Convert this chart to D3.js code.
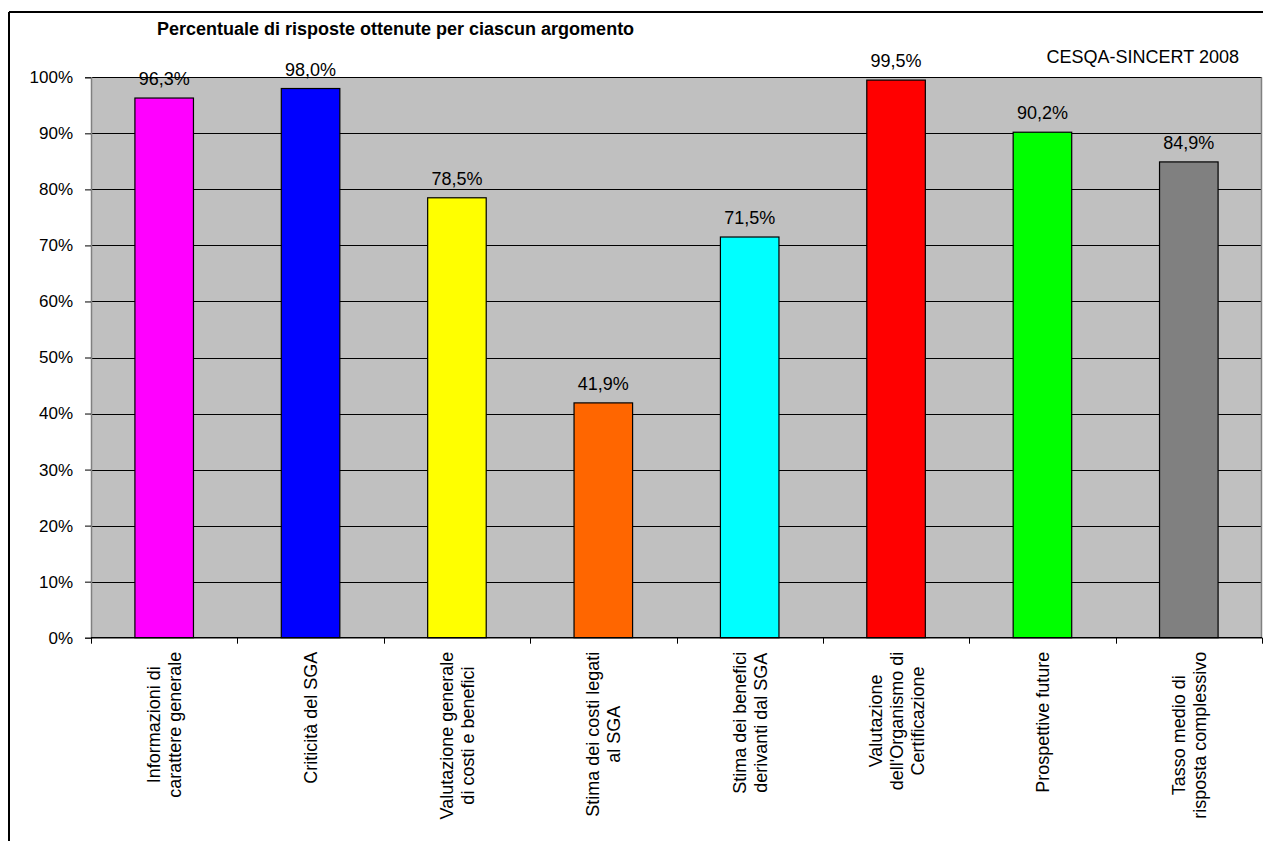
<!DOCTYPE html>
<html>
<head>
<meta charset="utf-8">
<script src="https://cdn.jsdelivr.net/npm/d3@7"></script>
<style>
  html, body { margin: 0; padding: 0; background: #fff; }
  svg { display: block; }
  text { font-family: "Liberation Sans", Arial, sans-serif; fill: #000; }
</style>
</head>
<body>
<svg id="chart" width="1263" height="841"></svg>
<script>
const categories = [
  ["Informazioni di", "carattere generale"],
  ["Criticità del SGA"],
  ["Valutazione generale", "di costi e benefici"],
  ["Stima dei costi legati", "al SGA"],
  ["Stima dei benefici", "derivanti dal SGA"],
  ["Valutazione", "dell'Organismo di", "Certificazione"],
  ["Prospettive future"],
  ["Tasso medio di", "risposta complessivo"]
];
const values = [96.3, 98.0, 78.5, 41.9, 71.5, 99.5, 90.2, 84.9];
const colors = ["#FF00FF", "#0000FF", "#FFFF00", "#FF6600", "#00FFFF", "#FF0000", "#00FF00", "#808080"];
const yTicks = [0, 10, 20, 30, 40, 50, 60, 70, 80, 90, 100];
const titleText = "Percentuale di risposte ottenute per ciascun argomento";
const sourceText = "CESQA-SINCERT 2008";

const svg = d3.select("#chart");
const W = 1263, H = 841;
const m = { left: 91, right: 1262, top: 77.3, bottom: 637.7 };
const fs = 18;

// outer frame
svg.append("line").attr("x1", 9).attr("x2", 9).attr("y1", 12).attr("y2", H)
  .attr("stroke", "#000").attr("stroke-width", 2);
svg.append("line").attr("x1", 9).attr("x2", W).attr("y1", 12).attr("y2", 12)
  .attr("stroke", "#000").attr("stroke-width", 2);

const x = d3.scaleBand().domain(d3.range(categories.length)).range([m.left, m.right]).paddingInner(0).paddingOuter(0);
const y = d3.scaleLinear().domain([0, 100]).range([m.bottom, m.top]);

// plot background
svg.append("rect").attr("x", m.left).attr("y", m.top)
  .attr("width", m.right - m.left).attr("height", m.bottom - m.top)
  .attr("fill", "#C0C0C0");

// gridlines
svg.append("g").selectAll("line").data(yTicks.filter(d => d > 0)).join("line")
  .attr("x1", m.left).attr("x2", m.right)
  .attr("y1", d => Math.round(y(d)) + 0.5).attr("y2", d => Math.round(y(d)) + 0.5)
  .attr("stroke", "#000").attr("stroke-width", 1);

// right border of plot
svg.append("line").attr("x1", m.right - 0.5).attr("x2", m.right - 0.5)
  .attr("y1", m.top).attr("y2", m.bottom).attr("stroke", "#808080").attr("stroke-width", 1.5);

// bars
const bw = x.bandwidth() * 0.4;
svg.append("g").selectAll("rect").data(values).join("rect")
  .attr("x", (d, i) => x(i) + (x.bandwidth() - bw) / 2)
  .attr("y", d => y(d))
  .attr("width", bw)
  .attr("height", d => y(0) - y(d))
  .attr("fill", (d, i) => colors[i])
  .attr("stroke", "#000").attr("stroke-width", 1.2);

// value labels
svg.append("g").selectAll("text").data(values).join("text")
  .attr("x", (d, i) => x(i) + x.bandwidth() / 2)
  .attr("y", d => y(d) - 13)
  .attr("text-anchor", "middle")
  .attr("font-size", fs)
  .text(d => d.toFixed(1).replace(".", ",") + "%");

// y axis
const yAxis = d3.axisLeft(y).tickValues(yTicks).tickSize(6).tickPadding(12)
  .tickFormat(d => d + "%");
const gy = svg.append("g").attr("transform", `translate(${m.left},0)`).call(yAxis);
gy.select(".domain").attr("stroke", "#808080").attr("stroke-width", 1.5);
gy.selectAll(".tick line").attr("stroke", "#000");
gy.selectAll(".tick text").attr("font-size", 17).attr("font-family", "Liberation Sans, Arial, sans-serif").attr("fill", "#000");

// x axis line and ticks
const boundaries = d3.range(categories.length + 1).map(i => i < categories.length ? x(i) : m.right);
svg.append("line").attr("x1", m.left).attr("x2", m.right)
  .attr("y1", m.bottom).attr("y2", m.bottom).attr("stroke", "#000").attr("stroke-width", 1.5);
svg.append("g").selectAll("line").data(boundaries).join("line")
  .attr("x1", d => Math.round(d) + 0.5).attr("x2", d => Math.round(d) + 0.5)
  .attr("y1", m.bottom).attr("y2", m.bottom + 6)
  .attr("stroke", "#000").attr("stroke-width", 1);

// x labels (rotated)
const labelTop = m.bottom + 14;
const lineH = 21;
categories.forEach((lines, i) => {
  const cx = x(i) + x.bandwidth() / 2;
  const g = svg.append("g");
  const texts = lines.map((ln, j) => {
    const lx = cx + (j - (lines.length - 1) / 2) * lineH + fs * 0.36;
    return g.append("text").attr("font-size", fs).attr("text-anchor", "middle")
      .attr("data-lx", lx).text(ln);
  });
  const maxLen = d3.max(texts, t => t.node().getComputedTextLength());
  texts.forEach(t => {
    const lx = +t.attr("data-lx");
    const ly = labelTop + maxLen / 2;
    t.attr("transform", `translate(${lx},${ly}) rotate(-90)`);
  });
});

// title
svg.append("text").attr("x", 157).attr("y", 35)
  .attr("font-size", 18).attr("font-weight", "bold").text(titleText);
// source
svg.append("text").attr("x", 1239).attr("y", 63)
  .attr("text-anchor", "end").attr("font-size", 18).text(sourceText);
</script>
</body>
</html>
